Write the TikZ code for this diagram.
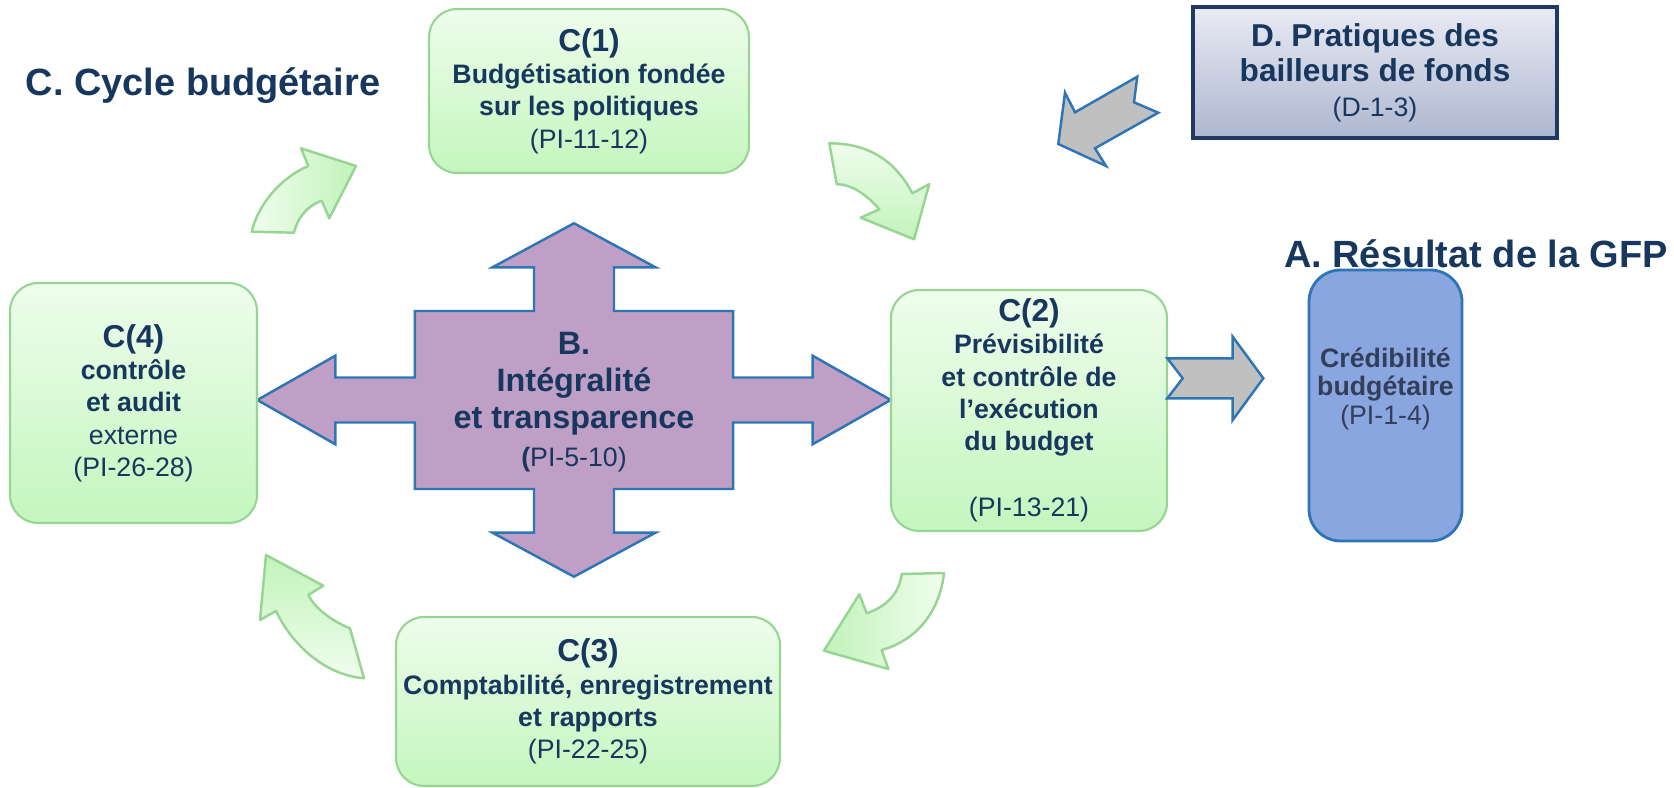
\documentclass[tikz,border=0pt]{standalone}
\usepackage{fontspec}
\setmainfont{Liberation Sans}

\definecolor{navy}{HTML}{17375E}
\definecolor{boxtop}{HTML}{EEFDEC}
\definecolor{boxbottom}{HTML}{C4F6BE}
\definecolor{boxborder}{HTML}{98D494}
\definecolor{arrowlight}{HTML}{F0FDEE}
\definecolor{arrowdeep}{HTML}{C2F3BA}
\definecolor{mauve}{HTML}{C09FC6}
\definecolor{blueline}{HTML}{2E75B6}
\definecolor{arrowgrey}{HTML}{C0C0C0}
\definecolor{resultfill}{HTML}{8AA6E0}
\definecolor{resulttext}{HTML}{333F5A}
\definecolor{dtop}{HTML}{E9EBF4}
\definecolor{dbottom}{HTML}{AEB7D0}
\definecolor{dborder}{HTML}{1F3864}

\begin{document}
\begin{tikzpicture}[
    cyclebox/.style={draw=boxborder, line width=0.6pt, rounded corners=8pt, top color=boxtop, bottom color=boxbottom,
      align=center, text=navy, inner sep=0pt, font=\fontsize{7.6}{9.2}\selectfont\bfseries},
    cyclearrow/.style={draw=boxborder, line width=0.7pt, line join=round},
    blockarrow/.style={draw=blueline, line width=0.7pt, fill=arrowgrey},
    title/.style={text=navy, font=\fontsize{10.8}{13}\selectfont\bfseries}
  ]
  \useasboundingbox (0,0) rectangle (16.74,7.88);

  % 十字の矢印 (B)
  \draw[blockarrow, fill=mauve, shift={(5.74,3.88)}] (0,1.767) -- (0.815,1.327) -- (0.40,1.327) -- (0.40,0.89) -- (1.592,0.89) -- (1.592,0.225) -- (2.386,0.225) -- (2.386,0.443) -- (3.167,0) -- (2.386,-0.443) -- (2.386,-0.225) -- (1.592,-0.225) -- (1.592,-0.89) -- (0.40,-0.89) -- (0.40,-1.327) -- (0.815,-1.327) -- (0,-1.767) -- (-0.815,-1.327) -- (-0.40,-1.327) -- (-0.40,-0.89) -- (-1.592,-0.89) -- (-1.592,-0.225) -- (-2.386,-0.225) -- (-2.386,-0.443) -- (-3.167,0) -- (-2.386,0.443) -- (-2.386,0.225) -- (-1.592,0.225) -- (-1.592,0.89) -- (-0.40,0.89) -- (-0.40,1.327) -- (-0.815,1.327) -- cycle;
  \node[text=navy, align=center, font=\fontsize{9.2}{10.6}\selectfont\bfseries] (B) at (5.74,3.86) {B.\\Intégralité\\et transparence\\{\fontsize{7.6}{9}\selectfont (\mdseries PI-5-10)}};

  % サイクルの箱
  \node[cyclebox, minimum width=3.2cm, minimum height=1.64cm] (C1) at (5.89,6.97) {{\fontsize{9}{10}\selectfont C(1)}\\Budgétisation fondée\\sur les politiques\\{\mdseries (PI-11-12)}};
  \node[cyclebox, minimum width=2.76cm, minimum height=2.41cm] (C2) at (10.29,3.775) {{\fontsize{9}{10}\selectfont C(2)}\\Prévisibilité\\et contrôle de\\l’exécution\\du budget\\[9.5pt]{\mdseries (PI-13-21)}};
  \node[cyclebox, minimum width=3.84cm, minimum height=1.69cm] (C3) at (5.88,0.865) {{\fontsize{9}{10}\selectfont C(3)}\\Comptabilité, enregistrement\\et rapports\\{\mdseries (PI-22-25)}};
  \node[cyclebox, minimum width=2.47cm, minimum height=2.40cm] (C4) at (1.335,3.85) {{\fontsize{9}{10}\selectfont C(4)}\\contrôle\\et audit\\{\mdseries externe}\\{\mdseries (PI-26-28)}};

  % A と D
  \node[draw=blueline, line width=0.8pt, rounded corners=9pt, fill=resultfill, minimum width=1.53cm, minimum height=2.71cm,
    align=center, text=resulttext, inner sep=0pt, font=\fontsize{7.6}{8}\selectfont\bfseries] (A) at (13.855,3.825) {Crédibilité\\budgétaire\\{\mdseries (PI-1-4)}\\[3pt]\mbox{}};
  \node[draw=dborder, line width=1pt, top color=dtop, bottom color=dbottom, minimum width=3.64cm, minimum height=1.31cm,
    align=center, text=navy, inner sep=0pt, font=\fontsize{9}{10}\selectfont\bfseries] (D) at (13.75,7.155) {D. Pratiques des\\bailleurs de fonds\\{\mdseries\fontsize{7.6}{10}\selectfont (D-1-3)}};

  \node[title] (Ctitle) at (2.03,7.02) {C. Cycle budgétaire};
  \node[title] (Atitle) at (14.76,5.34) {A. Résultat de la GFP};

  % 曲がった矢印
  \draw[cyclearrow, left color=arrowlight, right color=arrowdeep] (2.517,5.563) .. controls (2.58,5.83) and (2.80,6.10) .. (3.083,6.22) -- (3.01,6.397) -- (3.56,6.22) -- (3.293,5.697) -- (3.217,5.873) .. controls (3.05,5.81) and (2.97,5.68) .. (2.94,5.553) -- cycle;
  \draw[cyclearrow, top color=arrowlight, bottom color=arrowdeep] (8.293,6.447) .. controls (8.72,6.45) and (8.98,6.23) .. (9.123,5.947) -- (9.293,6.04) -- (9.14,5.487) -- (8.607,5.703) -- (8.793,5.787) .. controls (8.68,5.92) and (8.52,6.04) .. (8.367,6.037) -- cycle;
  \draw[cyclearrow, right color=arrowlight, left color=arrowdeep] (9.017,2.14) .. controls (8.99,1.93) and (8.85,1.81) .. (8.667,1.747) -- (8.593,1.937) -- (8.24,1.373) -- (8.883,1.19) -- (8.817,1.38) .. controls (9.18,1.48) and (9.40,1.78) .. (9.44,2.15) -- cycle;
  \draw[cyclearrow, bottom color=arrowlight, top color=arrowdeep] (3.50,1.597) .. controls (3.30,1.68) and (3.15,1.80) .. (3.083,1.93) -- (3.233,2.023) -- (2.66,2.33) -- (2.60,1.68) -- (2.76,1.77) .. controls (2.92,1.43) and (3.25,1.13) .. (3.64,1.097) -- cycle;

  % 灰色の矢印
  \draw[blockarrow] (10.583,6.44) -- (10.65,6.953) -- (10.75,6.757) -- (11.373,7.113) -- (11.34,6.857) -- (11.583,6.753) -- (10.95,6.397) -- (11.06,6.22) -- cycle;
  \draw[blockarrow] (11.673,4.297) -- (11.827,4.097) -- (11.673,3.897) -- (12.327,3.897) -- (12.327,3.68) -- (12.633,4.097) -- (12.327,4.513) -- (12.327,4.297) -- cycle;
\end{tikzpicture}
\end{document}
